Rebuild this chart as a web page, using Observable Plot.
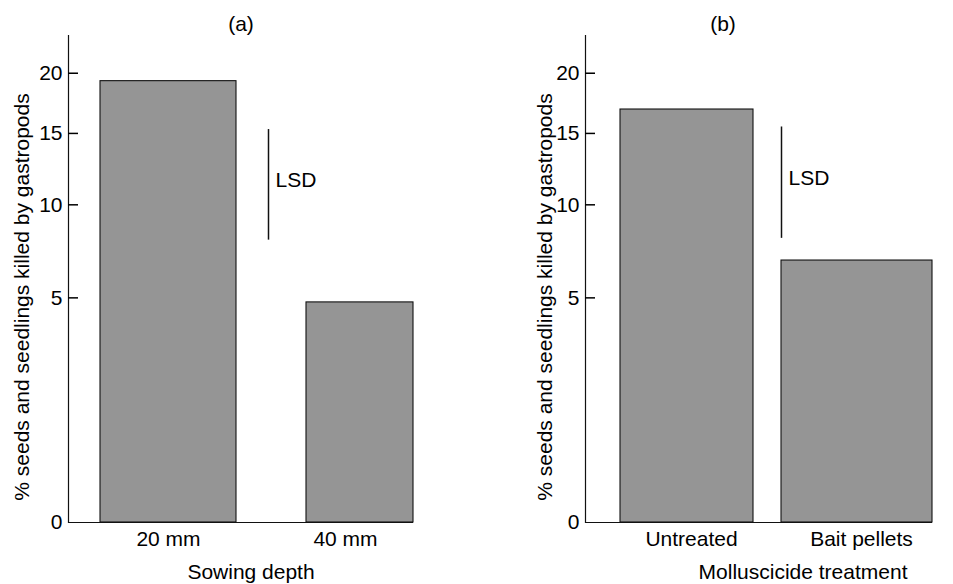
<!DOCTYPE html>
<html>
<head>
<meta charset="utf-8">
<script src="https://cdn.jsdelivr.net/npm/d3@7"></script>
<script src="https://cdn.jsdelivr.net/npm/@observablehq/plot@0.6"></script>
<style>
  body { margin: 0; background: white; }
  #wrap { position: relative; width: 953px; height: 584px; overflow: hidden; background: white; }
  #wrap > div { position: absolute; top: 0; }
</style>
</head>
<body>
<div id="wrap"><div id="pa" style="left:0px"></div><div id="pb" style="left:476px"></div></div>
<script>
// ---- data ----
const depthCats = ["20 mm", "40 mm"];
const depthVals = [19.3, 4.8];
const treatCats = ["Untreated", "Bait pellets"];
const treatVals = [16.9, 6.8];
const yTicks = [0, 5, 10, 15, 20];
const lsdA = [7.9, 15.3];
const lsdB = [8.0, 15.5];
const panelTitles = ["(a)", "(b)"];
const xLabels = ["Sowing depth", "Molluscicide treatment"];
const yLabel = "% seeds and seedlings killed by gastropods";

const FONT = "'Liberation Sans', Arial, Helvetica, sans-serif";
const FS = 21;
const INK = "#111";
const TICK = 10;

function panel(o) {
  const data = o.cats.map((c, i) => ({cat: c, v: o.vals[i]}));
  const frameW = o.width - o.marginLeft - o.marginRight;
  return Plot.plot({
    width: o.width, height: 584,
    marginTop: 35, marginBottom: 62, marginLeft: o.marginLeft, marginRight: o.marginRight,
    style: {fontFamily: FONT, fontSize: FS + "px", background: "white", color: "black", overflow: "visible"},
    x: {domain: o.cats, paddingInner: o.paddingInner, paddingOuter: o.paddingOuter, align: 1, label: null},
    y: {type: "sqrt", domain: [0, 23.5], label: null},
    marks: [
      Plot.barY([data[0]], {x: "cat", y: "v", fill: "#959595", stroke: INK, strokeWidth: 1.1, insetRight: o.inset0}),
      Plot.barY([data[1]], {x: "cat", y: "v", fill: "#959595", stroke: INK, strokeWidth: 1.1, insetLeft: o.inset1}),
      Plot.frame({anchor: "left", stroke: INK, strokeWidth: 1.2}),
      Plot.ruleY([0], {stroke: INK, strokeWidth: 1.2}),
      // inward y ticks: short horizontal ticks starting at the axis
      Plot.tickY(yTicks.filter(t => t > 0), {y: d => d, insetLeft: 0, insetRight: frameW - TICK, stroke: "#000", strokeWidth: 1.5}),
      Plot.axisY({ticks: yTicks, anchor: "left", tickSize: 0, tickPadding: 6, label: null, fontSize: FS}),
      Plot.axisX({tickSize: 0, tickPadding: 9, label: null, fontSize: FS}),
      Plot.ruleX([{cat: o.cats[0], y1: o.lsd[0], y2: o.lsd[1]}], {x: "cat", y1: "y1", y2: "y2", dx: o.lsdDx, stroke: INK, strokeWidth: 1.5}),
      Plot.text([{cat: o.cats[0], y: (o.lsd[0] + o.lsd[1]) / 2}], {x: "cat", y: "y", text: () => "LSD", dx: o.lsdDx + 7, textAnchor: "start", fontSize: FS}),
      Plot.text([o.title], {frameAnchor: "top", dx: o.titleDx, dy: -19, fontSize: FS}),
      Plot.text([o.xLabel], {frameAnchor: "bottom", dx: o.xLabelDx, dy: 56, fontSize: FS}),
      Plot.text([yLabel], {frameAnchor: "left", textAnchor: "middle", rotate: -90, dx: o.yLabelDx, dy: 18, fontSize: FS})
    ]
  });
}

document.getElementById("pa").appendChild(panel({
  cats: depthCats, vals: depthVals, lsd: lsdA, title: panelTitles[0], xLabel: xLabels[0],
  width: 476, marginLeft: 68, marginRight: 63, paddingInner: 0.2303, paddingOuter: 0.0843,
  inset0: 0, inset1: 29, lsdDx: 100, titleDx: 0, xLabelDx: 10, yLabelDx: -46
}));
document.getElementById("pb").appendChild(panel({
  cats: treatCats, vals: treatVals, lsd: lsdB, title: panelTitles[1], xLabel: xLabels[1],
  width: 477, marginLeft: 109, marginRight: 21, paddingInner: 0.1637, paddingOuter: 0.0965,
  inset0: 9, inset1: -9, lsdDx: 90, titleDx: -36, xLabelDx: 44, yLabelDx: -40
}));
</script>
</body>
</html>
